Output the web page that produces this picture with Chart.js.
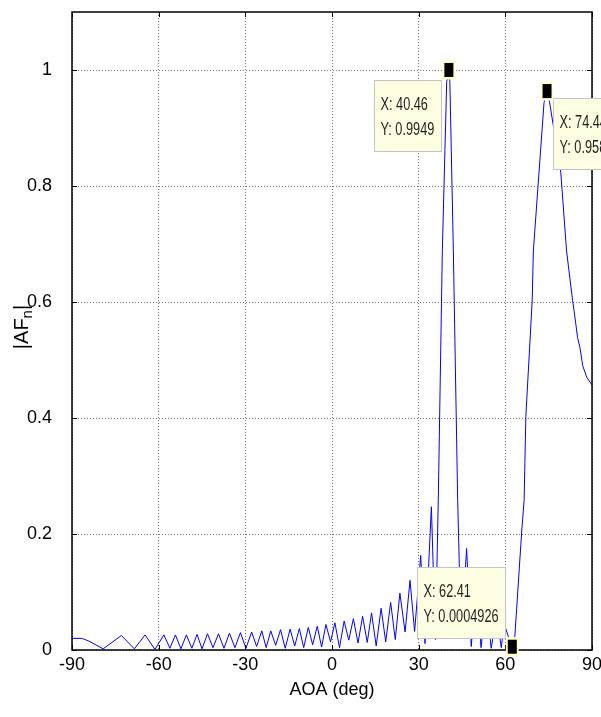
<!DOCTYPE html>
<html lang="en">
<head>
<meta charset="UTF-8">
<title>|AFn| vs AOA</title>
<script src="https://cdn.jsdelivr.net/npm/chart.js"></script>
<style>
  html, body { margin: 0; padding: 0; background: #fff; }
  canvas { display: block; }
</style>
</head>
<body>
<canvas id="afChart" width="601" height="717"></canvas>
<script>
// angle of arrival (deg) and normalized array factor magnitude
const aoaDeg = [
  -90, -86.6, -84.4, -79.2, -72.9, -68.4, -64.7, -61.3,
  -58.2, -56.1, -54.2, -52.3, -50.4, -48.5, -46.7, -45.0, -43.1, -41.2,
  -39.3, -37.4, -35.5, -33.6, -31.7, -29.8,
  -27.8, -26.1, -24.3, -22.8, -21.2, -19.5, -17.8, -16.2, -14.5, -12.9,
  -11.3, -9.8, -8.2, -6.7, -5.1, -3.6, -2.1, -0.5,
  1.0, 2.6, 4.2, 5.8, 7.4, 9.0, 10.6, 12.2, 13.7, 15.3, 17.0, 18.6,
  20.3, 21.9, 23.5, 25.3, 27.0, 28.6, 30.7, 32.2, 34.4, 35.8,
  36.8, 38.2, 39.7, 40.46, 40.8, 42.0, 43.5, 44.7,
  46.6, 48.2, 49.9, 51.6, 53.4, 55.1, 57.0, 58.6, 59.6, 61.0, 62.41,
  63.3, 65.7, 66.5, 67.1, 69.3, 69.7, 73.4, 74.44, 75.3,
  79.2, 81.2, 83.3, 83.8, 85.0, 85.8, 86.8, 88.2, 90
];
const afMag = [
  0.020, 0.020, 0.016, 0.002, 0.025, 0.002, 0.026, 0.001,
  0.026, 0.003, 0.026, 0.002, 0.026, 0.003, 0.027, 0.002, 0.028, 0.004,
  0.028, 0.003, 0.029, 0.004, 0.030, 0.003,
  0.031, 0.006, 0.033, 0.004, 0.033, 0.008, 0.035, 0.003, 0.036, 0.007,
  0.037, 0.004, 0.039, 0.009, 0.041, 0.005, 0.044, 0.014,
  0.047, 0.004, 0.050, 0.017, 0.054, 0.012, 0.058, 0.013, 0.064, 0.007, 0.072, 0.014,
  0.082, 0.018, 0.098, 0.031, 0.120, 0.032, 0.163, 0.011, 0.247, 0.018,
  0.26, 0.69, 0.98, 0.9949, 0.98, 0.69, 0.26, 0.02,
  0.175, 0.006, 0.11, 0.004, 0.085, 0.003, 0.06, 0.004, 0.045, 0.024, 0.0004926,
  0.024, 0.207, 0.258, 0.403, 0.602, 0.688, 0.944, 0.9585, 0.945,
  0.823, 0.688, 0.602, 0.585, 0.539, 0.522, 0.490, 0.470, 0.457
];

const xTicks = [-90, -60, -30, 0, 30, 60, 90];
const yTicks = [0, 0.2, 0.4, 0.6, 0.8, 1];

// data cursor readouts
const tipX = [40.46, 74.44, 62.41];
const tipY = [0.9949, 0.9585, 0.0004926];
const tipLabelX = ['X: 40.46', 'X: 74.44', 'X: 62.41'];
const tipLabelY = ['Y: 0.9949', 'Y: 0.9585', 'Y: 0.0004926'];

const FONT = '"Liberation Sans", Arial, Helvetica, sans-serif';

// frame, inward tick marks and the y label
const axesFrame = {
  id: 'axesFrame',
  afterDatasetsDraw(chart) {
    const { ctx, chartArea: a, scales: { x, y } } = chart;
    ctx.save();
    ctx.strokeStyle = '#000';
    ctx.lineWidth = 1;
    ctx.beginPath();
    xTicks.forEach(v => {
      const px = Math.round(x.getPixelForValue(v)) + 0.5;
      ctx.moveTo(px, a.bottom); ctx.lineTo(px, a.bottom - 5);
      ctx.moveTo(px, a.top); ctx.lineTo(px, a.top + 5);
    });
    yTicks.forEach(v => {
      const py = Math.round(y.getPixelForValue(v)) + 0.5;
      ctx.moveTo(a.left, py); ctx.lineTo(a.left + 5, py);
      ctx.moveTo(a.right, py); ctx.lineTo(a.right - 5, py);
    });
    ctx.stroke();
    ctx.lineWidth = 1.5;
    ctx.strokeRect(a.left, a.top, a.right - a.left, a.bottom - a.top);

    // |AF_n| rotated
    ctx.translate(22, 327);
    ctx.rotate(-Math.PI / 2);
    ctx.fillStyle = '#000';
    ctx.textBaseline = 'middle';
    ctx.font = '20px ' + FONT;
    const main = '|AF', sub = 'n', end = '|';
    const w1 = ctx.measureText(main).width;
    const w3 = ctx.measureText(end).width;
    ctx.font = '15px ' + FONT;
    const w2 = ctx.measureText(sub).width;
    let tx = -(w1 + w2 + w3) / 2;
    ctx.font = '20px ' + FONT;
    ctx.fillText(main, tx, 0);
    tx += w1;
    ctx.font = '15px ' + FONT;
    ctx.fillText(sub, tx, 6);
    tx += w2;
    ctx.font = '20px ' + FONT;
    ctx.fillText(end, tx, 0);
    ctx.restore();
  }
};

// box placement relative to each marker: which side and offsets
const tipPlace = [
  { side: 'left', dx: -8, dy: 7 },
  { side: 'right', dx: 6, dy: 4 },
  { side: 'leftUp', dx: -7, dy: -12 }
];

const dataTips = {
  id: 'dataTips',
  afterDraw(chart) {
    const { ctx, scales: { x, y } } = chart;
    ctx.save();
    ctx.font = '19px ' + FONT;
    const sx = 0.67;
    tipX.forEach((vx, i) => {
      const mx = x.getPixelForValue(vx);
      const my = y.getPixelForValue(tipY[i]);
      const p = tipPlace[i];
      const tw = Math.max(ctx.measureText(tipLabelX[i]).width, ctx.measureText(tipLabelY[i]).width) * sx;
      const bw = Math.round(tw + 13), bh = 71;
      let bx, by;
      if (p.side === 'left') { bx = mx + p.dx - bw; by = my + p.dy; }
      else if (p.side === 'right') { bx = mx + p.dx; by = my + p.dy; }
      else { bx = mx + p.dx - bw; by = my + p.dy - bh; }
      bx = Math.round(bx) + 0.5; by = Math.round(by) + 0.5;
      ctx.fillStyle = '#fdfde2';
      ctx.strokeStyle = '#c4c4c4';
      ctx.lineWidth = 1;
      ctx.fillRect(bx, by, bw, bh);
      ctx.strokeRect(bx, by, bw, bh);

      ctx.fillStyle = '#1e1e1e';
      ctx.textBaseline = 'middle';
      [tipLabelX[i], tipLabelY[i]].forEach((t, k) => {
        ctx.save();
        ctx.translate(bx + 6, by + 24 + k * 25);
        ctx.scale(sx, 1);
        ctx.fillText(t, 0, 0);
        ctx.restore();
      });

      // marker
      const cy = my - 3;
      ctx.fillStyle = '#ffffc8';
      ctx.fillRect(mx - 6.5, cy - 9.5, 13, 19);
      ctx.fillStyle = '#000';
      ctx.fillRect(mx - 4.5, cy - 7, 9, 14);
    });
    ctx.restore();
  }
};

const points = aoaDeg.map((a, i) => ({ x: a, y: afMag[i] }));

new Chart(document.getElementById('afChart'), {
  type: 'line',
  data: {
    datasets: [{
      data: points,
      borderColor: '#0000ff',
      borderWidth: 1,
      pointRadius: 0,
      tension: 0,
      fill: false
    }]
  },
  options: {
    responsive: false,
    animation: false,
    devicePixelRatio: 1,
    layout: { autoPadding: false, padding: { top: 12, right: 9, left: 0, bottom: 0 } },
    plugins: { legend: { display: false }, tooltip: { enabled: false } },
    scales: {
      x: {
        type: 'linear',
        min: -90, max: 90,
        afterFit(s) { s.height = 67; s.paddingLeft = 0; s.paddingRight = 0; },
        ticks: {
          stepSize: 30, autoSkip: false, maxRotation: 0, padding: 4,
          color: '#000', font: { family: FONT, size: 18 }
        },
        grid: { color: 'rgba(0,0,0,0.55)', drawTicks: false },
        border: { display: false, dash: [1, 2] },
        title: {
          display: true, text: 'AOA (deg)', color: '#000',
          font: { family: FONT, size: 18 }, padding: { top: 0, bottom: 16 }
        }
      },
      y: {
        min: 0, max: 1.1,
        afterFit(s) { s.width = 72; s.paddingTop = 0; s.paddingBottom = 0; },
        afterBuildTicks(s) { s.ticks = yTicks.map(v => ({ value: v })); },
        ticks: {
          padding: 20, color: '#000', font: { family: FONT, size: 18 },
          callback: v => String(Math.round(v * 10) / 10)
        },
        grid: { color: 'rgba(0,0,0,0.55)', drawTicks: false },
        border: { display: false, dash: [1, 2] }
      }
    }
  },
  plugins: [axesFrame, dataTips]
});
</script>
</body>
</html>
